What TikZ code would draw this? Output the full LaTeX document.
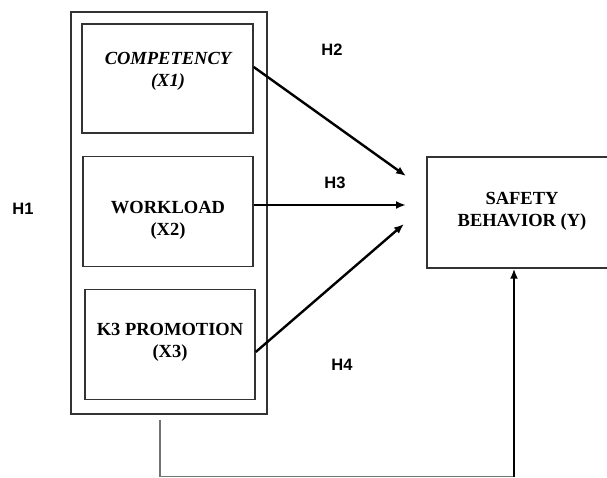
\documentclass[tikz,border=0pt]{standalone}
\usepackage{fontspec}
\setmainfont{Liberation Serif}
\setsansfont{Liberation Sans}
\usetikzlibrary{arrows.meta, positioning}
\definecolor{boxgray}{rgb}{0.2, 0.2, 0.2}
\definecolor{linegray}{rgb}{0.45, 0.45, 0.45}

\tikzset{
	varbox/.style={draw=boxgray, line width=1.4pt, minimum width=170pt, minimum height=110pt, inner sep=0pt},
	vartext/.style={align=center, font=\fontsize{18.5}{22}\selectfont\bfseries, inner sep=0pt},
	hyplabel/.style={font=\fontsize{16.5}{18}\selectfont\sffamily\bfseries, inner sep=0pt},
	patharrow/.style={line width=2.4pt, -{Latex[length=10pt, width=8pt]}}
}

\begin{document}
\begin{tikzpicture}[x=1pt, y=-1pt]
		\useasboundingbox (0,0) rectangle (607,478);
		\clip (0,0) rectangle (607,478);
		% outer frame
		\node [draw=boxgray, line width=1.3pt, minimum width=196pt, minimum height=402pt] (outer) at (169,213) {};
		% variable boxes
		\node [varbox, minimum width=171pt, minimum height=109pt] (comp) at (167.5,78.5) {};
		\node [varbox] (work) at (168,211.5) {};
		\node [varbox] (promo) at (170,344.5) {};
		\node [varbox, minimum width=190pt, minimum height=111pt] (safety) at (522,212.5) {};
		% texts
		\node [vartext] (comptext) at (168,71) {\itshape COMPETENCY\\\itshape (X1)};
		\node [vartext] (worktext) at (168,220) {WORKLOAD\\(X2)};
		\node [vartext] (promotext) at (170,342) {K3 PROMOTION\\(X3)};
		\node [vartext] (safetytext) at (522,211.5) {SAFETY\\BEHAVIOR (Y)};
		% hypothesis labels
		\node [hyplabel] (h1) at (23,209) {H1};
		\node [hyplabel] (h2) at (332,50) {H2};
		\node [hyplabel] (h3) at (335,183) {H3};
		\node [hyplabel] (h4) at (342,365) {H4};
		% arrow ends
		\coordinate (tip2) at (406,176);
		\coordinate (tip3) at (406,205);
		\coordinate (tip4) at (404,224);
		\draw [patharrow] ([yshift=11.5pt]comp.east) -- (tip2);
		\draw [patharrow] ([yshift=6.5pt]work.east) -- (tip3);
		\draw [patharrow] ([yshift=-7.5pt]promo.east) -- (tip4);
		% H1 path round the bottom
		\coordinate (corner) at (514,476.5);
		\draw [linegray, line width=1.1pt] ([shift={(-9pt,-5pt)}]outer.south) |- (corner);
		\draw [patharrow] (corner) -- (corner |- safety.south);
	\end{tikzpicture}
\end{document}
